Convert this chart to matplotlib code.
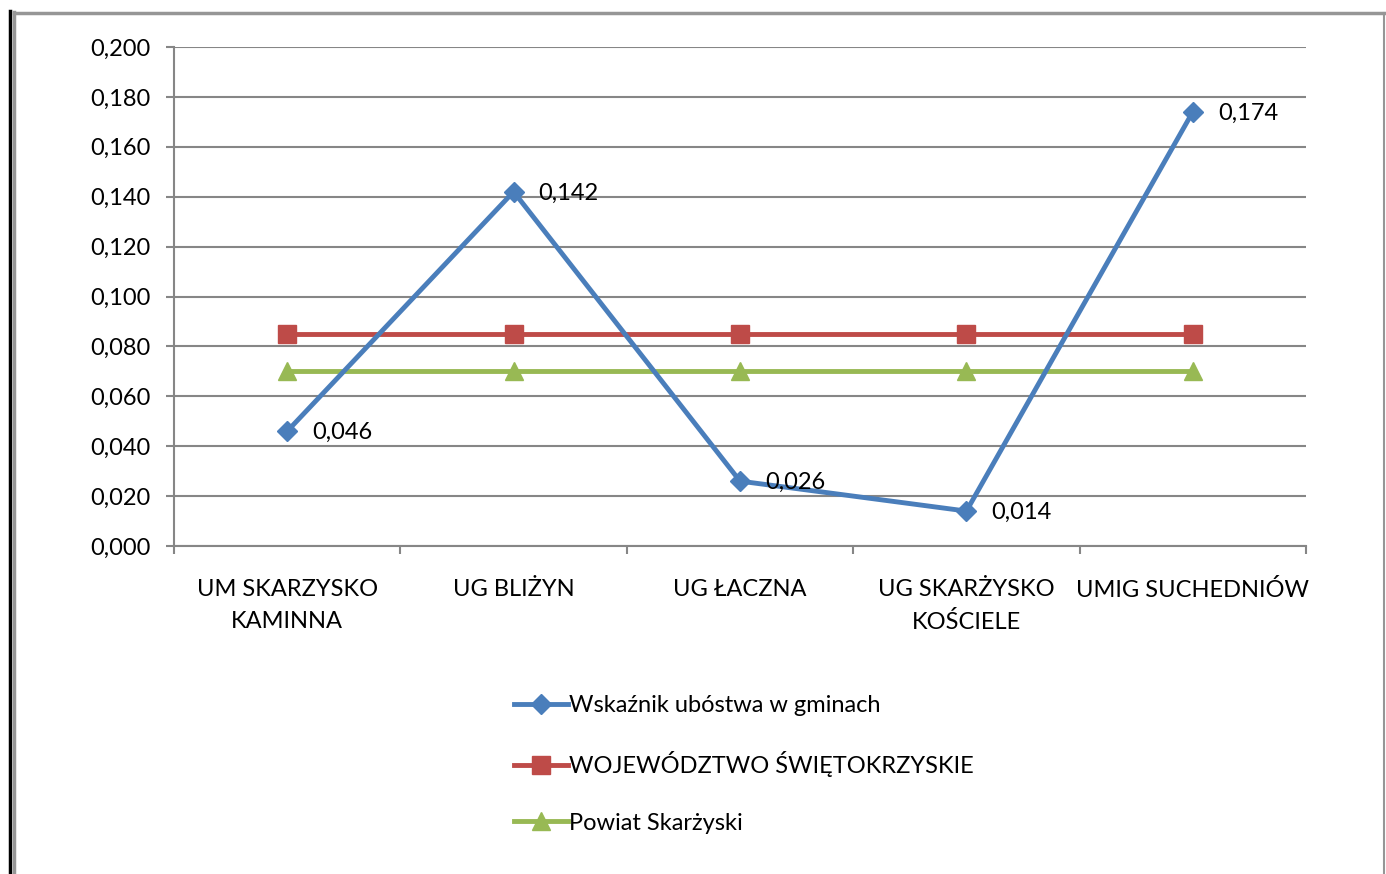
import matplotlib.pyplot as plt
from matplotlib.lines import Line2D

categories = ["UM SKARZYSKO\nKAMINNA", "UG BLIŻYN", "UG ŁACZNA",
              "UG SKARŻYSKO\nKOŚCIELE", "UMIG SUCHEDNIÓW"]
wskaznik = [0.046, 0.142, 0.026, 0.014, 0.174]
wojewodztwo = [0.085, 0.085, 0.085, 0.085, 0.085]
powiat = [0.070, 0.070, 0.070, 0.070, 0.070]
yticks = [0.0, 0.02, 0.04, 0.06, 0.08, 0.10, 0.12, 0.14, 0.16, 0.18, 0.20]

plt.rcParams['font.family'] = ['Lato', 'DejaVu Sans']
FS = 17

fig = plt.figure(figsize=(13.86, 8.74), dpi=100)
ax = fig.add_axes([174/1386, 1-546/874, 1132/1386, 499/874])

x = list(range(len(categories)))
l1, = ax.plot(x, wskaznik, color='#4A7EBB', lw=3.5, marker='D', ms=10,
              label='Wskaźnik ubóstwa w gminach', zorder=5)
l2, = ax.plot(x, wojewodztwo, color='#BE4B48', lw=3.5, marker='s', ms=13,
              label='WOJEWÓDZTWO ŚWIĘTOKRZYSKIE', zorder=4)
l3, = ax.plot(x, powiat, color='#98B954', lw=3.5, marker='^', ms=13,
              label='Powiat Skarżyski', zorder=3)

for xi, v in zip(x, wskaznik):
    ax.annotate(f"{v:.3f}".replace('.', ','), (xi, v), xytext=(18, -1),
                textcoords='offset points', va='center', ha='left', fontsize=FS,
                zorder=6)

ax.set_xlim(-0.5, 4.5)
ax.set_ylim(0, 0.2)
ax.set_yticks(yticks)
ax.set_yticklabels([f"{t:.3f}".replace('.', ',') for t in yticks], fontsize=FS)
ax.set_xticks(x)
ax.set_xticklabels(categories, fontsize=FS, linespacing=1.6)
ax.set_xticks([i - 0.5 for i in range(6)], minor=True)
ax.tick_params(axis='x', which='major', length=0, pad=24)
ax.tick_params(axis='x', which='minor', length=6, width=1.5, color='#868686')
ax.tick_params(axis='y', length=6, width=1.5, color='#868686', pad=11)
ax.grid(axis='y', color='#868686', lw=1.5)
ax.set_axisbelow(True)
for s in ['top', 'right']:
    ax.spines[s].set_visible(False)
for s in ['left', 'bottom']:
    ax.spines[s].set_color('#868686')
    ax.spines[s].set_linewidth(1.5)

fig.legend(handles=[l1, l2, l3], loc='upper left',
           bbox_to_anchor=(502/1386, 1-683/874), frameon=False, fontsize=FS,
           handlelength=2.3, handletextpad=0.05, labelspacing=1.5,
           borderpad=0)

# outer frame
fig.add_artist(Line2D([10/1386, 10/1386], [0, 1-11/874], color='black', lw=2.5))
fig.add_artist(Line2D([14/1386, 14/1386], [0, 1-12/874], color='#969696', lw=2.5))
fig.add_artist(Line2D([14/1386, 1384/1386], [1-13/874, 1-13/874], color='#969696', lw=2.5))
fig.add_artist(Line2D([1384/1386, 1384/1386], [0, 1-13/874], color='#969696', lw=1.5))

fig.savefig('out.png', dpi=100)
